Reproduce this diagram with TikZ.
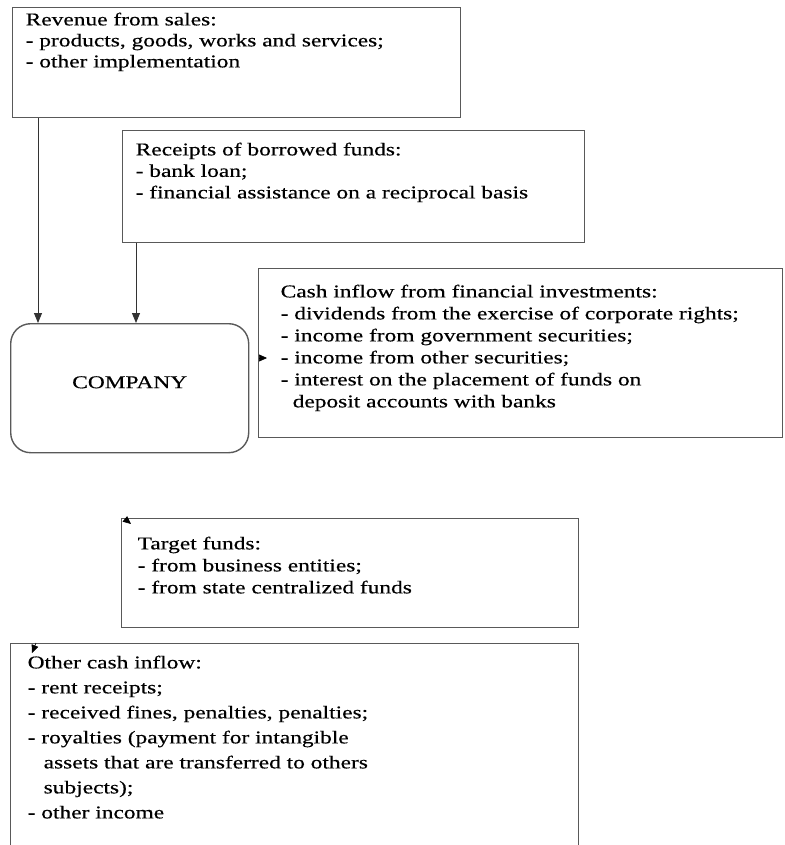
\documentclass[tikz,border=0pt]{standalone}
\usepackage{fontspec}
\setmainfont{Liberation Serif}[FakeStretch=1.3,FakeBold=0.4]
\usetikzlibrary{arrows.meta,calc}

\newcommand{\boxtext}[3]{\parbox[t][#2][t]{#1}{\raggedright #3}}

\tikzset{
  box/.style={draw=black!65, line width=1.4pt, anchor=north west, inner ysep=12pt,
    font=\fontsize{18}{21.5}\selectfont},
  arr/.style={-{Triangle[length=10pt,width=8pt]}, line width=1pt, draw=black!80},
  stub/.style={-{Triangle[length=8pt,width=7pt]}, line width=0.6pt},
}

\begin{document}
\begin{tikzpicture}[x=1pt,y=-1pt]
\useasboundingbox (0,0) rectangle (784,845);

% Sources of cash
\node[box,inner xsep=13pt,inner ysep=5pt,font=\fontsize{18}{21}\selectfont]
(rev)
at (12,7)
{\boxtext{422pt}{100pt}{Revenue from sales:\\
- products, goods, works and services;\\
- other implementation}};

\node[box,inner xsep=13pt]
(brw)
at (122,130)
{\boxtext{436pt}{88pt}{Receipts of borrowed funds:\\
- bank loan;\\
- financial assistance on a reciprocal basis}};

\node[box,inner xsep=22pt,inner ysep=16pt,font=\fontsize{18}{22}\selectfont]
(inv)
at (258,268)
{\boxtext{480pt}{137pt}{Cash inflow from financial investments:\\
- dividends from the exercise of corporate rights;\\
- income from government securities;\\
- income from other securities;\\
- interest on the placement of funds on\\
\hspace*{12pt}deposit accounts with banks}};

\node[box,inner xsep=16pt,inner ysep=18pt,font=\fontsize{18}{22}\selectfont]
(tgt)
at (121,518)
{\boxtext{425pt}{73pt}{Target funds:\\
- from business entities;\\
- from state centralized funds}};

\node[box,inner xsep=17pt,font=\fontsize{18}{25}\selectfont]
(oth)
at (10,643)
{\boxtext{534pt}{181pt}{Other cash inflow:\\
- rent receipts;\\
- received fines, penalties, penalties;\\
- royalties (payment for intangible\\
\hspace*{16pt}assets that are transferred to others\\
\hspace*{16pt}subjects);\\
- other income}};

% Company
\node[draw=black!65,line width=1.4pt,rounded corners=20pt,anchor=north west,
  minimum width=238pt,minimum height=129pt,text depth=12pt,
  font=\fontsize{18}{21.5}\selectfont]
(comp)
at (10,323)
{COMPANY};

\draw[arr] ([xshift=26pt]rev.south west) -- ([xshift=28pt]comp.north west);
\draw[arr] ([xshift=14pt]brw.south west) -- ([xshift=126pt]comp.north west);

% Loose arrow heads
\coordinate (s1) at (259,358);
\coordinate (s2) at (125,519);
\coordinate (s3) at (36,643);
\draw[stub] (s1) -- ($(s1 -| inv.west)+(9,0)$);
\draw[stub] (s2) -- ($(tgt.north west)+(10,6)$);
\draw[stub] (s3) -- ($(oth.north west)+(22,10)$);

\end{tikzpicture}
\end{document}
